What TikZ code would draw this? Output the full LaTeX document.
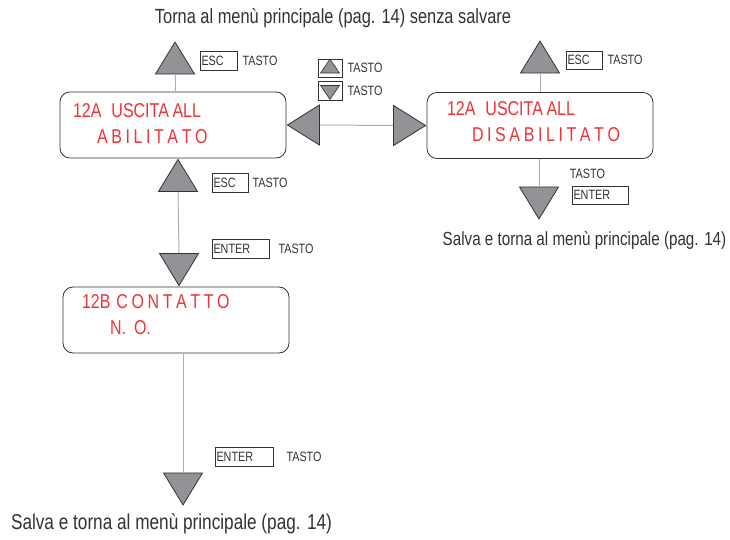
\documentclass[tikz,border=0pt]{standalone}
\usepackage{fontspec}
\setmainfont{Liberation Sans}[FakeStretch=0.8]
\usetikzlibrary{shapes.geometric}
\definecolor{keygray}{RGB}{146,147,151}
\definecolor{lcdred}{RGB}{238,50,56}
\definecolor{wiregray}{RGB}{175,175,175}
\definecolor{inkgray}{RGB}{50,50,50}
\begin{document}
\begin{tikzpicture}[x=1pt, y=-1pt,
		display/.style={draw=inkgray, rounded corners=10pt, line width=0.8pt, minimum height=66pt, inner xsep=0pt, text width=226pt, align=left, text=lcdred, font=\fontsize{20}{26}\selectfont, execute at begin node={\spaceskip 3.6pt\relax}},
		arrowkey/.style={isosceles triangle, isosceles triangle stretches, draw=inkgray, fill=keygray, line width=0.8pt, inner sep=0pt, minimum height=32pt, minimum width=39pt},
		keycap/.style={draw=inkgray, line width=0.6pt, minimum height=19pt, inner xsep=1.5pt, inner ysep=0pt, align=left, text=inkgray, font=\fontsize{13.5}{14}\selectfont},
		keytext/.style={anchor=west, inner sep=0pt, text=inkgray, font=\fontsize{13.5}{14}\selectfont},
		note/.style={text=inkgray, inner sep=0pt},
		wire/.style={draw=wiregray, line width=1pt}]
		\useasboundingbox (0,0) rectangle (730,540);

		\node[note, font=\fontsize{20.5}{21}\selectfont] at (333,18) (quitnote) {Torna al menù principale (pag. 14) senza salvare};

		\node[display] at (173,125) (enabled) {\hspace*{13pt}12A\enspace USCITA ALL\\\hspace*{37pt}A B I L I T A T O\rule[-3pt]{0pt}{3pt}};
		\node[display] at (540,125.5) (disabled) {\hspace*{20pt}12A\enspace USCITA ALL\\\hspace*{45pt}D I S A B I L I T A T O\rule[-8pt]{0pt}{8pt}};
		\node[display] at (176,320) (contact) {\hspace*{19pt}12B\hspace{6pt}C O N T A T T O\\\hspace*{47pt}N.\hspace{8pt}O.\rule[-11pt]{0pt}{11pt}};

		\node[arrowkey, rotate=90, anchor=apex] at (175,41) (quitA) {};
		\node[arrowkey, rotate=90, anchor=apex] at ([xshift=5pt]enabled.south) (backB) {};
		\node[arrowkey, rotate=-90, anchor=apex] at ([xshift=3pt]contact.north) (nextB) {};
		\node[arrowkey, rotate=-90, anchor=apex] at (183,506) (saveB) {};
		\node[arrowkey, rotate=90, anchor=apex] at (540,40) (quitC) {};
		\node[arrowkey, rotate=-90, anchor=apex] at (539,220) (saveC) {};
		\node[arrowkey, rotate=180, anchor=apex, minimum width=40pt] at (enabled.east) (toA) {};
		\node[arrowkey, anchor=apex, minimum width=40pt] at (disabled.west) (toC) {};

		\draw[wire] (quitA.lower side) -- (quitA.lower side |- enabled.north);
		\draw[wire] (backB.lower side) -- (nextB.lower side);
		\draw[wire] (saveB.lower side |- contact.south) -- (saveB.lower side);
		\draw[wire] (quitC.lower side) -- (quitC.lower side |- disabled.north);
		\draw[wire] (saveC.lower side |- disabled.south) -- (saveC.lower side);
		\draw[wire] (toA.lower side) -- (toC.lower side);

		\node[keycap, text width=34pt] at (218.5,60.5) (escA) {ESC};
		\node[keytext] at ([xshift=5pt]escA.east) (tastoA) {TASTO};
		\node[keycap, text width=33pt] at (230,182.5) (escB) {ESC};
		\node[keytext] at ([xshift=4pt]escB.east) (tastoB) {TASTO};
		\node[keycap, text width=54pt] at (240.5,249) (enterB) {ENTER};
		\node[keytext] at ([xshift=9pt]enterB.east) (tastoenterB) {TASTO};
		\node[keycap, text width=55pt] at (244,456.5) (entersave) {ENTER};
		\node[keytext] at ([xshift=13pt]entersave.east) (tastosave) {TASTO};
		\node[keycap, text width=33pt, minimum height=18pt] at (584,60) (escC) {ESC};
		\node[keytext] at ([xshift=5pt]escC.east) (tastoC) {TASTO};
		\node[keycap, text width=53pt, minimum height=18pt] at (600,195) (enterC) {ENTER};
		\node[keytext, anchor=south west] at ([shift={(-2pt,7pt)}]enterC.north west) (tastoenterC) {TASTO};

		\node[keycap, minimum width=24pt, minimum height=18pt, inner sep=0pt] at (330,68) (upkey) {};
		\node[arrowkey, rotate=90, minimum height=14pt, minimum width=19pt, line width=0.6pt] at (upkey) (upsign) {};
		\node[keytext] at ([xshift=5pt]upkey.east) (tastoup) {TASTO};
		\node[keycap, minimum width=24pt, minimum height=19pt, inner sep=0pt] at (330,90.5) (downkey) {};
		\node[arrowkey, rotate=-90, minimum height=14pt, minimum width=19pt, line width=0.6pt] at (downkey) (downsign) {};
		\node[keytext] at ([xshift=5pt]downkey.east) (tastodown) {TASTO};

		\node[note, font=\fontsize{19}{20}\selectfont] at (584.5,240) (savenoteC) {Salva e torna al menù principale (pag. 14)};
		\node[note, font=\fontsize{21.5}{22}\selectfont] at (171.5,524) (savenote) {Salva e torna al menù principale (pag. 14)};
	\end{tikzpicture}
\end{document}
